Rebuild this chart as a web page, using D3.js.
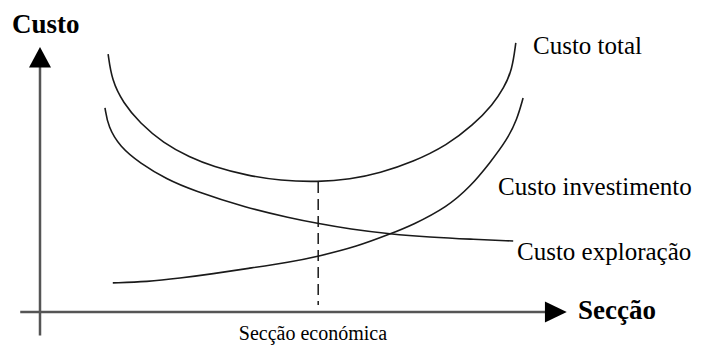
<!DOCTYPE html>
<html lang="pt">
  <head>
    <meta charset="UTF-8" />
    <title>Secção económica</title>
    <style>
      body { margin: 0; background: #fff; }
      text { font-family: "Liberation Serif", "Times New Roman", serif; fill: #000; }
    </style>
  </head>
  <body>
    <div id="chart"></div>

    <script src="https://cdn.jsdelivr.net/npm/d3@7"></script>
    <script>
      // values (section units 0-10, cost units 0-10)
      var totalX = [1.31, 1.38, 1.60, 1.92, 2.37, 2.88, 3.33, 3.98, 4.62, 5.35, 5.96, 6.54, 7.17, 7.83, 8.33, 8.71, 8.92, 9.08, 9.15];
      var totalY = [9.92, 8.92, 8.04, 7.27, 6.50, 5.95, 5.60, 5.25, 5.05, 5.00, 5.10, 5.35, 5.77, 6.42, 7.19, 7.98, 8.62, 9.31, 10.35];

      var exploracaoX = [1.25, 1.31, 1.54, 1.92, 2.44, 2.94, 3.98, 4.81, 5.35, 5.96, 6.73, 7.50, 8.27, 9.10];
      var exploracaoY = [7.85, 7.12, 6.35, 5.73, 5.10, 4.68, 4.00, 3.62, 3.40, 3.19, 3.00, 2.88, 2.80, 2.73];

      var investimentoX = [1.40, 2.06, 2.69, 3.33, 3.98, 4.81, 5.35, 6.10, 6.73, 7.17, 7.83, 8.27, 8.65, 8.98, 9.17, 9.29];
      var investimentoY = [1.12, 1.16, 1.30, 1.47, 1.67, 1.92, 2.14, 2.52, 3.00, 3.35, 4.04, 4.81, 5.73, 6.62, 7.38, 8.23];

      var seccaoEconomica = 5.35;
      var custoMinimo = 5.00;

      var labels = ["Custo total", "Custo investimento", "Custo exploração"];

      var width = 705;
      var height = 345;

      var xScale = d3.scaleLinear()
                     .domain([0, 10])
                     .range([40, 560]);
      var yScale = d3.scaleLinear()
                     .domain([0, 10])
                     .range([312, 52]);

      var svg = d3.select("#chart")
                  .append("svg")
                  .attr("width", width)
                  .attr("height", height);

      function toPoints(xs, ys) {
        return xs.map(function(x, i) { return [x, ys[i]]; });
      }

      var line = d3.line()
                   .x(function(d) { return xScale(d[0]); })
                   .y(function(d) { return yScale(d[1]); })
                   .curve(d3.curveBasis);

      // axes
      var axisColor = "#555";
      svg.append("line")
         .attr("x1", xScale(0)).attr("x2", xScale(0))
         .attr("y1", yScale(-0.9)).attr("y2", yScale(9.5))
         .attr("stroke", axisColor)
         .attr("stroke-width", 2.5);
      svg.append("path")
         .attr("d", "M" + xScale(0) + "," + yScale(10.19) +
                    "L" + (xScale(0) - 11) + "," + yScale(9.4) +
                    "L" + (xScale(0) + 11) + "," + yScale(9.4) + "Z")
         .attr("fill", "#000");

      svg.append("line")
         .attr("x1", xScale(-0.38)).attr("x2", xScale(9.8))
         .attr("y1", yScale(0)).attr("y2", yScale(0))
         .attr("stroke", axisColor)
         .attr("stroke-width", 2.5);
      svg.append("path")
         .attr("d", "M" + xScale(10.13) + "," + yScale(0) +
                    "L" + xScale(9.71) + "," + (yScale(0) - 10.5) +
                    "L" + xScale(9.71) + "," + (yScale(0) + 10.5) + "Z")
         .attr("fill", "#000");

      // curves
      var series = [toPoints(totalX, totalY), toPoints(exploracaoX, exploracaoY), toPoints(investimentoX, investimentoY)];
      svg.selectAll("path.curve")
         .data(series)
         .enter()
         .append("path")
         .attr("class", "curve")
         .attr("d", line)
         .attr("fill", "none")
         .attr("stroke", "#1a1a1a")
         .attr("stroke-width", 1.6);

      // economic section
      svg.append("line")
         .attr("x1", xScale(seccaoEconomica)).attr("x2", xScale(seccaoEconomica))
         .attr("y1", yScale(custoMinimo)).attr("y2", yScale(0.27))
         .attr("stroke", "#1a1a1a")
         .attr("stroke-width", 1.5)
         .attr("stroke-dasharray", "11,6");

      // texts
      svg.append("text")
         .attr("x", 12).attr("y", 33)
         .attr("font-size", "27px")
         .attr("font-weight", "bold")
         .text("Custo");
      svg.append("text")
         .attr("x", 578).attr("y", 319)
         .attr("font-size", "27px")
         .attr("font-weight", "bold")
         .text("Secção");
      svg.append("text")
         .attr("x", 313).attr("y", 340)
         .attr("text-anchor", "middle")
         .attr("font-size", "20px")
         .text("Secção económica");

      var labelPos = [[533, 54], [498, 195], [517, 260]];
      svg.selectAll("text.label")
         .data(labels)
         .enter()
         .append("text")
         .attr("class", "label")
         .attr("x", function(d, i) { return labelPos[i][0]; })
         .attr("y", function(d, i) { return labelPos[i][1]; })
         .attr("font-size", "25px")
         .text(function(d) { return d; });
    </script>
  </body>
</html>
